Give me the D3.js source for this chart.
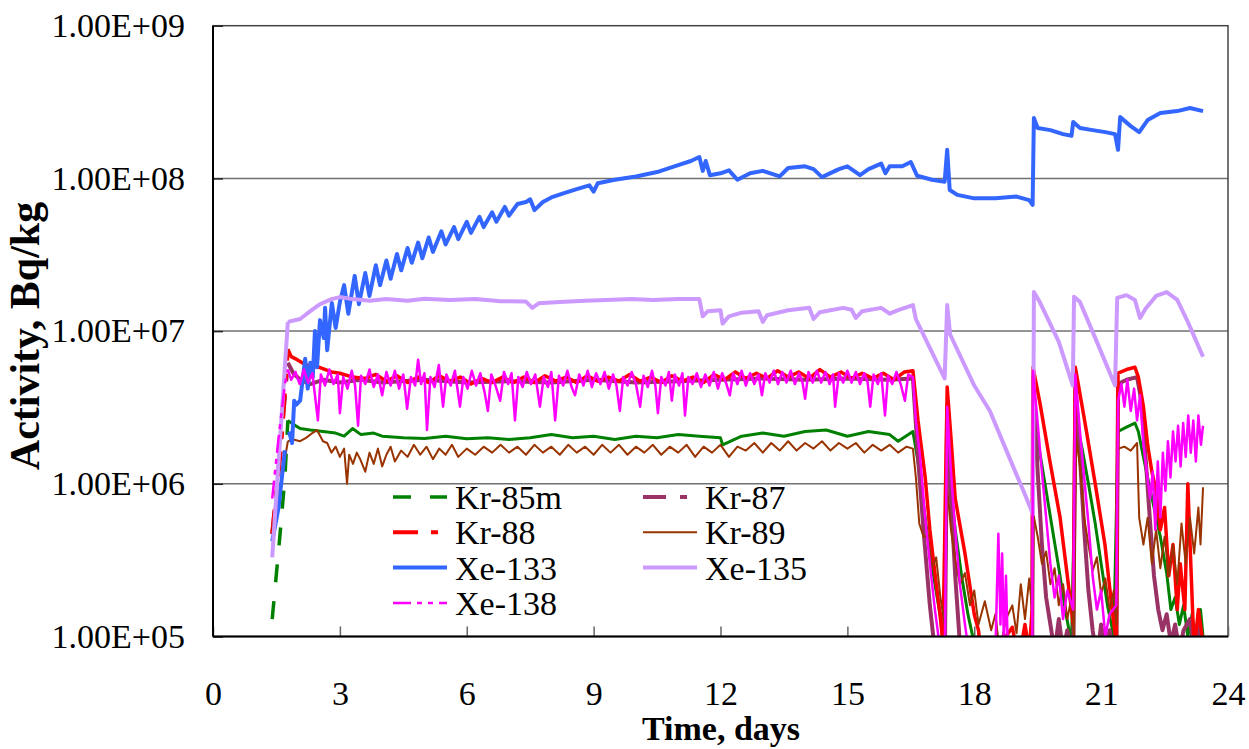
<!DOCTYPE html>
<html>
<head>
<meta charset="utf-8">
<script src="https://cdn.jsdelivr.net/npm/d3@7"></script>
<style>
  body { margin: 0; background: #fff; }
</style>
</head>
<body>
<svg id="chart"></svg>
<script>
// Series names, in legend / draw order
const seriesNames = ["Kr-85m", "Kr-87", "Kr-88", "Kr-89", "Xe-133", "Xe-135", "Xe-138"];

// Axis ticks
const xTicks = [0, 3, 6, 9, 12, 15, 18, 21, 24];
const yTicks = [1e5, 1e6, 1e7, 1e8, 1e9];
const yTickLabels = ["1.00E+05", "1.00E+06", "1.00E+07", "1.00E+08", "1.00E+09"];

// [time (days), activity (Bq/kg)]
const kr85m = [[1.40,1.3e5],[1.58,4.5e5],[1.70,1.1e6],[1.77,2.6e6],[1.9,2.45e6],[2.06,2.3e6],[2.3,2.25e6],[2.6,2.2e6],[2.9,2.15e6],[3.1,2.05e6],[3.3,2.3e6],[3.5,2.1e6],[3.8,2.15e6],[4.0,2.05e6],[4.5,2.0e6],[5.0,1.98e6],[5.5,2.05e6],[6.0,1.97e6],[6.5,2.0e6],[7.0,1.95e6],[7.5,2.0e6],[8.0,2.1e6],[8.5,2.0e6],[9.0,2.05e6],[9.5,1.95e6],[10.0,2.05e6],[10.5,2.0e6],[11.0,2.1e6],[11.5,2.05e6],[12.0,2.0e6],[12.05,1.8e6],[12.5,2.05e6],[13.0,2.15e6],[13.5,2.05e6],[14.0,2.2e6],[14.5,2.25e6],[15.0,2.05e6],[15.5,2.2e6],[16.0,2.1e6],[16.2,1.9e6],[16.55,2.2e6],[16.67,1.4e6],[16.84,6e5],[16.95,3.5e5],[17.07,2.2e5],[17.19,1.4e5],[17.3,9e4],[17.36,1.8e6],[17.45,9e5],[17.55,5e5],[17.7,2.5e5],[17.85,1.4e5],[18.0,9e4],[18.3,6e4],[19.3,6e4],[19.37,9e4],[19.41,2.6e6],[19.55,1.6e6],[19.7,9e5],[19.85,5e5],[20.0,2.8e5],[20.15,1.5e5],[20.3,9e4],[20.41,2.6e6],[20.55,1.7e6],[20.7,1e6],[20.86,5.5e5],[21.0,3e5],[21.15,1.6e5],[21.3,1e5],[21.4,2.2e6],[21.6,2.35e6],[21.8,2.5e6],[21.88,2.2e6],[22.0,1.5e6],[22.1,1.1e6],[22.25,7e5],[22.4,4.5e5],[22.55,2.6e5],[22.65,1.5e5],[22.75,1.8e5],[22.85,1.2e5],[22.95,1.6e5],[23.05,1e5],[23.15,1.4e5],[23.25,9e4],[23.35,1.5e5],[23.41,1e5]];

const kr87 = [[1.40,4.7e5],[1.6,1.8e6],[1.77,6.2e6],[1.9,5.3e6],[2.06,4.8e6],[2.3,4.5e6],[2.6,4.8e6],[3.0,4.6e6],[3.5,4.8e6],[4.0,4.6e6],[5.0,4.8e6],[6.0,4.6e6],[7.0,4.7e6],[8.0,4.6e6],[9.0,4.8e6],[10.0,4.6e6],[11.0,4.7e6],[12.0,4.8e6],[13.0,4.9e6],[14.0,4.8e6],[15.0,4.9e6],[16.0,4.8e6],[16.55,4.9e6],[16.67,1.5e6],[16.8,5e5],[16.95,1.6e5],[17.07,8e4],[17.3,5e4],[17.36,3.2e6],[17.45,8e5],[17.55,2.5e5],[17.66,9e4],[17.8,5e4],[19.37,5e4],[19.39,5e6],[19.5,1.2e6],[19.6,4e5],[19.7,1.8e5],[19.8,1.2e5],[19.9,8e4],[20.0,1.3e5],[20.1,8e4],[20.2,1.1e5],[20.34,6e4],[20.39,4.5e6],[20.5,1.5e6],[20.6,5e5],[20.7,2e5],[20.8,1.1e5],[20.9,7e4],[21.0,1.2e5],[21.1,8e4],[21.2,1.1e5],[21.36,6e4],[21.4,4.5e6],[21.6,4.8e6],[21.85,5e6],[21.95,3.5e6],[22.05,1.5e6],[22.15,6e5],[22.25,2.5e5],[22.35,1.5e5],[22.45,1.1e5],[22.55,1.4e5],[22.65,9e4],[22.75,1.2e5],[22.85,8e4],[22.95,1.1e5],[23.1,1.3e5],[23.2,8e4],[23.3,1.2e5],[23.41,9e4]];

const kr88 = [[1.40,4.7e5],[1.6,1.6e6],[1.77,7.6e6],[1.85,6.8e6],[1.99,6.5e6],[2.2,6.0e6],[2.5,5.8e6],[2.8,5.4e6],[3.0,5.3e6],[3.3,5.0e6],[3.6,4.9e6],[3.85,5.2e6],[4.1,4.7e6],[4.35,5.1e6],[4.6,4.6e6],[4.85,5.0e6],[5.1,4.6e6],[5.35,5.1e6],[5.6,4.7e6],[5.85,5.0e6],[6.1,4.5e6],[6.35,4.9e6],[6.6,4.6e6],[6.85,5.0e6],[7.1,4.6e6],[7.35,5.0e6],[7.6,4.6e6],[7.85,5.1e6],[8.1,4.7e6],[8.35,5.0e6],[8.6,4.6e6],[8.85,5.1e6],[9.1,4.7e6],[9.35,5.0e6],[9.6,4.7e6],[9.85,5.2e6],[10.1,4.7e6],[10.35,5.0e6],[10.6,4.6e6],[10.85,5.1e6],[11.1,4.7e6],[11.35,5.0e6],[11.6,4.6e6],[11.85,5.2e6],[12.1,4.8e6],[12.35,5.4e6],[12.6,4.9e6],[12.85,5.3e6],[13.1,4.9e6],[13.35,5.5e6],[13.6,5.0e6],[13.85,5.4e6],[14.1,4.9e6],[14.35,5.6e6],[14.6,5.0e6],[14.85,5.4e6],[15.1,4.9e6],[15.35,5.3e6],[15.6,4.9e6],[15.85,5.3e6],[16.1,4.8e6],[16.35,5.4e6],[16.55,5.5e6],[16.67,2.6e6],[16.84,1.1e6],[16.95,5e5],[17.07,2.6e5],[17.19,1.4e5],[17.26,9e4],[17.36,4.3e6],[17.45,2e6],[17.55,8e5],[17.78,3.5e5],[18.0,1.4e5],[18.1,1.1e5],[18.2,6e4],[18.9,1.15e5],[19.05,7e4],[19.2,1.2e5],[19.3,8e4],[19.37,1.5e5],[19.39,5.8e6],[19.56,3.3e6],[19.79,1.4e6],[20.03,6e5],[20.2,2.5e5],[20.34,1.2e5],[20.39,5.8e6],[20.62,2.5e6],[20.86,1.0e6],[21.09,4e5],[21.26,1.5e5],[21.36,9e4],[21.4,5.3e6],[21.6,5.6e6],[21.8,5.8e6],[21.88,5.0e6],[22.0,3.2e6],[22.1,1.8e6],[22.2,1.2e6],[22.3,9e5],[22.4,5e5],[22.5,7e5],[22.6,2.5e5],[22.7,4e5],[22.8,1.5e5],[22.87,3e5],[22.98,1.5e5],[23.05,1.0e6],[23.12,3e5],[23.2,8e4],[23.3,1.5e5],[23.41,9e4]];

const kr89 = [[1.40,5e5],[1.6,1.0e6],[1.77,1.9e6],[1.9,1.95e6],[2.06,1.9e6],[2.2,2.0e6],[2.35,2.15e6],[2.46,2.25e6],[2.6,1.9e6],[2.7,1.85e6],[2.8,1.6e6],[2.9,1.75e6],[3.0,1.5e6],[3.1,1.7e6],[3.17,1.0e6],[3.22,1.55e6],[3.31,1.35e6],[3.4,1.6e6],[3.48,1.45e6],[3.6,1.2e6],[3.7,1.6e6],[3.8,1.35e6],[3.9,1.7e6],[4.0,1.3e6],[4.1,1.55e6],[4.2,1.75e6],[4.3,1.4e6],[4.45,1.65e6],[4.6,1.5e6],[4.75,1.8e6],[4.9,1.55e6],[5.05,1.75e6],[5.2,1.45e6],[5.35,1.7e6],[5.5,1.55e6],[5.65,1.8e6],[5.8,1.5e6],[6.0,1.7e6],[6.2,1.55e6],[6.4,1.75e6],[6.6,1.6e6],[6.8,1.8e6],[7.0,1.6e6],[7.2,1.75e6],[7.4,1.55e6],[7.6,1.8e6],[7.8,1.6e6],[8.0,1.75e6],[8.2,1.55e6],[8.4,1.8e6],[8.6,1.6e6],[8.8,1.75e6],[9.0,1.55e6],[9.2,1.8e6],[9.4,1.6e6],[9.6,1.8e6],[9.8,1.55e6],[10.0,1.75e6],[10.2,1.6e6],[10.4,1.8e6],[10.6,1.55e6],[10.8,1.75e6],[11.0,1.6e6],[11.2,1.8e6],[11.4,1.5e6],[11.6,1.75e6],[11.8,1.6e6],[12.0,1.8e6],[12.2,1.5e6],[12.4,1.75e6],[12.6,1.65e6],[12.8,1.85e6],[13.0,1.6e6],[13.2,1.85e6],[13.4,1.65e6],[13.6,1.9e6],[13.8,1.65e6],[14.0,1.85e6],[14.2,1.7e6],[14.4,1.9e6],[14.6,1.65e6],[14.8,1.85e6],[15.0,1.7e6],[15.2,1.85e6],[15.4,1.6e6],[15.6,1.8e6],[15.8,1.65e6],[16.0,1.8e6],[16.2,1.6e6],[16.4,1.75e6],[16.55,1.7e6],[16.62,1.1e6],[16.7,5.5e5],[16.8,4.5e5],[16.9,4.6e5],[17.0,2.8e5],[17.1,3.3e5],[17.2,1.8e5],[17.3,1.2e5],[17.36,9.5e5],[17.45,5e5],[17.55,3.2e5],[17.66,2.2e5],[17.78,2.6e5],[17.9,1.6e5],[18.0,2.0e5],[18.1,1.2e5],[18.25,1.7e5],[18.4,1.1e5],[18.5,1.4e5],[18.6,8e4],[18.75,1.3e5],[18.9,1.6e5],[19.0,1.05e5],[19.1,2.2e5],[19.2,1.3e5],[19.3,2.4e5],[19.37,1.5e5],[19.39,6.5e5],[19.5,4.5e5],[19.6,3e5],[19.7,3.6e5],[19.8,2.2e5],[19.9,2.8e5],[20.0,1.6e5],[20.1,2.2e5],[20.2,1.3e5],[20.3,1.8e5],[20.36,1.0e5],[20.41,2.0e6],[20.5,1.3e6],[20.6,6e5],[20.7,4e5],[20.8,2.7e5],[20.9,3.3e5],[21.0,1.9e5],[21.1,2.4e5],[21.2,1.5e5],[21.3,2e5],[21.36,1.2e5],[21.4,1.7e6],[21.55,1.75e6],[21.7,1.65e6],[21.85,1.85e6],[21.9,6e5],[22.0,4e5],[22.1,6e5],[22.2,3e5],[22.3,5e5],[22.4,2.8e5],[22.5,4.5e5],[22.6,2.5e5],[22.7,4e5],[22.8,2.2e5],[22.9,5.5e5],[23.0,3e5],[23.1,6e5],[23.2,3.5e5],[23.3,7e5],[23.35,4e5],[23.41,9.5e5]];

const xe133 = [[1.40,4.2e5],[1.55,7e5],[1.70,1.66e6],[1.80,2.2e6],[1.87,1.85e6],[1.92,3.5e6],[1.97,3.3e6],[2.06,3.5e6],[2.18,6.6e6],[2.24,4.2e6],[2.30,6.2e6],[2.36,5.0e6],[2.41,1.0e7],[2.46,5.8e6],[2.53,1.18e7],[2.62,9e6],[2.65,1.42e7],[2.70,7.5e6],[2.81,1.53e7],[2.9,1.05e7],[3.0,1.55e7],[3.1,2.0e7],[3.2,1.3e7],[3.35,2.3e7],[3.45,1.5e7],[3.6,2.4e7],[3.7,1.7e7],[3.85,2.7e7],[3.95,2.0e7],[4.1,2.9e7],[4.2,2.2e7],[4.35,3.2e7],[4.45,2.5e7],[4.6,3.5e7],[4.7,2.8e7],[4.85,3.8e7],[4.95,3.0e7],[5.1,4.1e7],[5.2,3.3e7],[5.4,4.5e7],[5.5,3.7e7],[5.7,4.8e7],[5.8,4.0e7],[6.0,5.2e7],[6.1,4.4e7],[6.3,5.6e7],[6.4,4.8e7],[6.6,6.0e7],[6.7,5.2e7],[6.9,6.5e7],[7.0,5.7e7],[7.2,6.8e7],[7.4,7.0e7],[7.5,7.3e7],[7.6,6.2e7],[7.8,7.0e7],[8.0,7.5e7],[8.3,8.0e7],[8.6,8.5e7],[8.9,9.0e7],[9.0,8.2e7],[9.1,9.3e7],[9.5,9.8e7],[10.0,1.03e8],[10.5,1.1e8],[11.0,1.22e8],[11.3,1.3e8],[11.5,1.38e8],[11.58,1.12e8],[11.65,1.3e8],[11.75,1.05e8],[12.0,1.08e8],[12.2,1.13e8],[12.4,9.8e7],[12.7,1.08e8],[13.0,1.12e8],[13.4,1.03e8],[13.6,1.17e8],[14.0,1.2e8],[14.2,1.15e8],[14.4,1.02e8],[14.8,1.15e8],[15.0,1.2e8],[15.3,1.05e8],[15.5,1.15e8],[15.8,1.25e8],[15.9,1.08e8],[16.0,1.2e8],[16.3,1.2e8],[16.5,1.28e8],[16.65,1.04e8],[17.0,9.8e7],[17.3,9.5e7],[17.36,1.54e8],[17.42,8.4e7],[17.6,7.8e7],[18.0,7.4e7],[18.5,7.4e7],[19.0,7.6e7],[19.3,7.2e7],[19.38,6.7e7],[19.41,2.49e8],[19.5,2.14e8],[19.8,2.07e8],[20.1,1.95e8],[20.3,1.9e8],[20.34,2.34e8],[20.5,2.14e8],[20.8,2.07e8],[21.1,2.01e8],[21.33,1.95e8],[21.4,1.54e8],[21.45,2.52e8],[21.7,2.2e8],[21.9,2.01e8],[22.1,2.41e8],[22.4,2.68e8],[22.8,2.76e8],[23.1,2.89e8],[23.41,2.76e8]];

const xe135 = [[1.40,3.3e5],[1.77,1.15e7],[2.06,1.2e7],[2.30,1.35e7],[2.53,1.5e7],[2.8,1.62e7],[3.0,1.67e7],[3.3,1.62e7],[3.7,1.58e7],[4.1,1.62e7],[4.6,1.58e7],[5.0,1.63e7],[5.6,1.6e7],[6.2,1.62e7],[6.8,1.57e7],[7.4,1.56e7],[7.55,1.42e7],[7.7,1.52e7],[8.2,1.55e7],[8.8,1.58e7],[9.3,1.6e7],[9.9,1.62e7],[10.4,1.6e7],[11.0,1.62e7],[11.5,1.62e7],[11.58,1.25e7],[11.7,1.35e7],[12.0,1.37e7],[12.05,1.12e7],[12.2,1.25e7],[12.5,1.32e7],[12.9,1.35e7],[13.0,1.15e7],[13.1,1.27e7],[13.6,1.37e7],[14.1,1.42e7],[14.2,1.2e7],[14.35,1.33e7],[14.9,1.42e7],[15.1,1.38e7],[15.2,1.22e7],[15.35,1.35e7],[15.8,1.42e7],[16.0,1.3e7],[16.2,1.37e7],[16.55,1.48e7],[16.62,1.2e7],[17.3,4.9e6],[17.36,1.48e7],[17.43,9.5e6],[18.0,4.4e6],[18.37,3.0e6],[18.85,1.44e6],[19.2,8.5e5],[19.39,6.3e5],[19.41,1.8e7],[19.55,1.55e7],[20.0,8.5e6],[20.33,4.4e6],[20.36,1.68e7],[20.5,1.55e7],[20.9,8.5e6],[21.33,4.4e6],[21.38,1.65e7],[21.6,1.72e7],[21.8,1.6e7],[21.92,1.22e7],[22.05,1.4e7],[22.3,1.7e7],[22.55,1.8e7],[22.8,1.6e7],[23.05,1.15e7],[23.41,6.8e6]];

const xe138 = [[1.40,8e5],[1.55,2.0e6],[1.7,4.5e6],[1.77,5.6e6],[1.85,4.8e6],[1.95,5.4e6],[2.05,4.5e6],[2.15,5.6e6],[2.25,4.6e6],[2.35,5.3e6],[2.48,2.6e6],[2.55,5.2e6],[2.65,4.4e6],[2.75,5.6e6],[2.85,4.5e6],[2.95,5.2e6],[3.0,2.9e6],[3.08,5.0e6],[3.18,4.2e6],[3.28,5.5e6],[3.36,4.4e6],[3.43,2.4e6],[3.5,5.1e6],[3.6,4.5e6],[3.7,5.6e6],[3.8,4.3e6],[3.9,5.2e6],[4.0,3.8e6],[4.1,5.4e6],[4.2,4.4e6],[4.3,5.5e6],[4.4,4.2e6],[4.5,5.2e6],[4.59,3.1e6],[4.68,5.0e6],[4.78,4.4e6],[4.85,6.5e6],[4.92,4.5e6],[5.0,5.3e6],[5.06,2.25e6],[5.14,5.0e6],[5.24,4.3e6],[5.34,6.0e6],[5.44,3.2e6],[5.52,5.2e6],[5.62,4.4e6],[5.72,5.5e6],[5.84,3.2e6],[5.92,5.0e6],[6.02,4.2e6],[6.12,5.5e6],[6.22,4.4e6],[6.32,5.3e6],[6.42,4.0e6],[6.50,3.0e6],[6.58,5.2e6],[6.68,4.4e6],[6.79,3.5e6],[6.88,5.4e6],[6.98,4.5e6],[7.06,5.3e6],[7.14,2.6e6],[7.22,5.0e6],[7.32,4.3e6],[7.42,5.4e6],[7.52,4.5e6],[7.62,5.2e6],[7.73,3.2e6],[7.82,5.0e6],[7.92,4.3e6],[8.0,5.4e6],[8.09,2.6e6],[8.18,5.1e6],[8.28,4.4e6],[8.38,5.5e6],[8.48,4.3e6],[8.56,3.8e6],[8.66,5.2e6],[8.76,4.4e6],[8.86,5.5e6],[8.96,4.3e6],[9.06,5.3e6],[9.16,4.5e6],[9.26,5.4e6],[9.36,4.2e6],[9.46,5.2e6],[9.54,4.4e6],[9.62,3.0e6],[9.7,5.0e6],[9.8,4.4e6],[9.9,5.4e6],[10.0,4.5e6],[10.1,3.2e6],[10.18,5.1e6],[10.28,4.3e6],[10.38,5.5e6],[10.46,4.4e6],[10.52,2.9e6],[10.6,5.0e6],[10.7,4.4e6],[10.78,5.4e6],[10.85,3.5e6],[10.92,5.2e6],[11.02,4.4e6],[11.1,5.3e6],[11.16,2.8e6],[11.24,5.0e6],[11.34,4.5e6],[11.44,5.3e6],[11.54,4.3e6],[11.64,5.2e6],[11.74,4.4e6],[11.84,5.4e6],[11.94,4.2e6],[12.04,5.3e6],[12.14,4.5e6],[12.22,3.8e6],[12.3,5.3e6],[12.4,4.5e6],[12.5,5.5e6],[12.6,4.4e6],[12.7,5.3e6],[12.8,4.5e6],[12.9,5.2e6],[12.98,3.8e6],[13.06,5.3e6],[13.16,4.6e6],[13.26,5.5e6],[13.36,4.5e6],[13.46,5.4e6],[13.56,4.6e6],[13.66,5.5e6],[13.76,4.5e6],[13.86,5.3e6],[13.94,4.6e6],[14.0,3.6e6],[14.08,5.4e6],[14.18,4.6e6],[14.28,5.5e6],[14.38,4.6e6],[14.48,5.4e6],[14.58,4.5e6],[14.66,5.2e6],[14.71,3.2e6],[14.8,5.3e6],[14.9,4.6e6],[15.0,5.5e6],[15.1,4.6e6],[15.2,5.4e6],[15.3,4.5e6],[15.4,5.3e6],[15.48,4.6e6],[15.54,3.2e6],[15.62,5.2e6],[15.72,4.5e6],[15.8,5.3e6],[15.89,2.8e6],[15.96,5.1e6],[16.06,4.5e6],[16.16,5.4e6],[16.26,4.5e6],[16.36,3.5e6],[16.44,5.2e6],[16.55,5.0e6],[16.62,2.6e6],[16.72,1.5e6],[16.84,6e5],[16.95,3e5],[17.07,1.5e5],[17.2,8e4],[17.3,6e4],[17.36,3.2e6],[17.45,1.2e6],[17.55,5e5],[17.66,2.2e5],[17.78,1.2e5],[17.9,7e4],[18.2,6e4],[18.5,8e4],[18.57,4.7e5],[18.62,1.2e5],[18.66,3.5e5],[18.7,9e4],[18.75,2.5e5],[18.8,7e4],[19.0,6e4],[19.37,7e4],[19.39,5.5e6],[19.5,2.5e6],[19.6,1.2e6],[19.7,6e5],[19.8,3e5],[19.9,1.8e5],[20.0,2.5e5],[20.1,1.3e5],[20.2,2e5],[20.34,1.5e5],[20.39,5.2e6],[20.5,2.2e6],[20.6,1.1e6],[20.7,5.5e5],[20.8,2.5e5],[20.9,1.5e5],[21.0,2e5],[21.1,1e5],[21.2,1.4e5],[21.36,1.6e5],[21.4,3.5e6],[21.48,4.5e6],[21.55,3.2e6],[21.62,4.8e6],[21.7,3.0e6],[21.78,4.2e6],[21.85,2.6e6],[21.92,3.8e6],[22.0,1.8e6],[22.08,1.2e6],[22.16,8e5],[22.22,1.2e6],[22.28,5e5],[22.34,1.4e6],[22.4,6e5],[22.46,1.6e6],[22.52,9e5],[22.58,1.9e6],[22.64,1.1e6],[22.7,2.2e6],[22.76,1.4e6],[22.82,2.4e6],[22.88,1.3e6],[22.94,2.5e6],[23.0,1.5e6],[23.06,2.8e6],[23.12,1.6e6],[23.18,2.6e6],[23.24,1.4e6],[23.3,2.8e6],[23.36,1.8e6],[23.41,2.4e6]];

const seriesData = [kr85m, kr87, kr88, kr89, xe133, xe135, xe138];

// Look of each series (plot line, legend line)
const styles = [
  { color: "#008000", width: 3,   legendWidth: 3.5, dash: "18,19" },
  { color: "#993366", width: 4,   legendWidth: 4,   dash: "23,14,7,14" },
  { color: "#ff0000", width: 3.5, legendWidth: 4,   dash: "25,13,7,13" },
  { color: "#993300", width: 2,   legendWidth: 2,   dash: null },
  { color: "#3366ff", width: 4,   legendWidth: 4,   dash: null },
  { color: "#cc99ff", width: 4,   legendWidth: 4,   dash: null },
  { color: "#ff00ff", width: 2.5, legendWidth: 2.5, dash: "18,6,5,6,5,6" }
];

const serif = "'Liberation Serif', 'Times New Roman', Times, serif";

const width = 1249, height = 749;
const plot = { left: 213, right: 1228, top: 25.7, bottom: 636.5 };

const svg = d3.select("#chart")
              .attr("width", width)
              .attr("height", height);

const x = d3.scaleLinear().domain([0, 24]).range([plot.left, plot.right]);
const y = d3.scaleLog().domain([1e5, 1e9]).range([plot.bottom, plot.top]);

// Clip lines to the plot area
svg.append("defs").append("clipPath")
   .attr("id", "plotClip")
   .append("rect")
   .attr("x", plot.left)
   .attr("y", plot.top)
   .attr("width", plot.right - plot.left)
   .attr("height", plot.bottom - plot.top);

// Horizontal gridlines
svg.append("g")
   .selectAll("line")
   .data(yTicks.slice(1, -1))
   .enter().append("line")
   .attr("x1", plot.left)
   .attr("x2", plot.right)
   .attr("y1", d => y(d))
   .attr("y2", d => y(d))
   .attr("stroke", "#707070")
   .attr("stroke-width", 1.5);

// Plot frame (top and right)
svg.append("rect")
   .attr("x", plot.left)
   .attr("y", plot.top)
   .attr("width", plot.right - plot.left)
   .attr("height", plot.bottom - plot.top)
   .attr("fill", "none")
   .attr("stroke", "#444")
   .attr("stroke-width", 1.5);

// Axes
const xAxis = d3.axisBottom(x)
                .tickValues(xTicks)
                .tickFormat(d3.format("d"))
                .tickSize(-10)
                .tickPadding(44);
const xAxisG = svg.append("g")
                  .attr("transform", `translate(0,${plot.bottom})`)
                  .call(xAxis)
                  .attr("font-family", serif)
                  .attr("font-size", 34);
xAxisG.select(".domain").remove();
xAxisG.selectAll(".tick line").attr("stroke", "#666").attr("stroke-width", 1.5);
xAxisG.selectAll(".tick text").attr("fill", "#000");

const yAxis = d3.axisLeft(y)
                .tickValues(yTicks)
                .tickFormat((d, i) => yTickLabels[i])
                .tickSize(-10)
                .tickPadding(28);
const yAxisG = svg.append("g")
                  .attr("transform", `translate(${plot.left},0)`)
                  .call(yAxis)
                  .attr("font-family", serif)
                  .attr("font-size", 34);
yAxisG.select(".domain").remove();
yAxisG.selectAll(".tick line").attr("stroke", "#222").attr("stroke-width", 1.5);
yAxisG.selectAll(".tick text").attr("fill", "#000");

// Data lines
const line = d3.line()
               .x(d => x(d[0]))
               .y(d => y(d[1]));

const linesG = svg.append("g").attr("clip-path", "url(#plotClip)");
seriesData.forEach((data, i) => {
  const s = styles[i];
  // the start-up ramp shows the dash pattern; the dense noisy record reads as solid
  const ramp = data.filter(d => d[0] <= 1.77);
  const rest = data.filter(d => d[0] >= 1.77);
  linesG.append("path")
        .datum(ramp)
        .attr("d", line)
        .attr("fill", "none")
        .attr("stroke", s.color)
        .attr("stroke-width", s.legendWidth)
        .attr("stroke-dasharray", s.dash);
  linesG.append("path")
        .datum(rest)
        .attr("d", line)
        .attr("fill", "none")
        .attr("stroke", s.color)
        .attr("stroke-width", s.width)
        .attr("stroke-linejoin", "round");
});

// Axis lines (black, left and bottom)
svg.append("line")
   .attr("x1", plot.left).attr("x2", plot.left)
   .attr("y1", plot.top).attr("y2", plot.bottom)
   .attr("stroke", "#000").attr("stroke-width", 2);
svg.append("line")
   .attr("x1", plot.left).attr("x2", plot.right)
   .attr("y1", plot.bottom).attr("y2", plot.bottom)
   .attr("stroke", "#000").attr("stroke-width", 2);

// Legend, two columns
const legend = svg.append("g")
                  .attr("font-family", serif)
                  .attr("font-size", 34)
                  .selectAll("g")
                  .data(seriesNames)
                  .enter().append("g")
                  .attr("transform", (d, i) => `translate(${393 + (i % 2) * 250},${497 + Math.floor(i / 2) * 35.3})`);
legend.append("line")
      .attr("x1", 0).attr("x2", 54)
      .attr("y1", 0).attr("y2", 0)
      .attr("stroke", (d, i) => styles[i].color)
      .attr("stroke-width", (d, i) => styles[i].legendWidth)
      .attr("stroke-dasharray", (d, i) => styles[i].dash);
legend.append("text")
      .attr("x", 62)
      .attr("y", 12)
      .attr("fill", "#000")
      .text(d => d);

// Axis titles
svg.append("text")
   .attr("x", 721)
   .attr("y", 740)
   .attr("text-anchor", "middle")
   .attr("font-family", serif)
   .attr("font-size", 34)
   .attr("font-weight", "bold")
   .text("Time, days");

svg.append("text")
   .attr("transform", "translate(39,336) rotate(-90)")
   .attr("text-anchor", "middle")
   .attr("font-family", serif)
   .attr("font-size", 42)
   .attr("font-weight", "bold")
   .text("Activity, Bq/kg");
</script>
</body>
</html>
